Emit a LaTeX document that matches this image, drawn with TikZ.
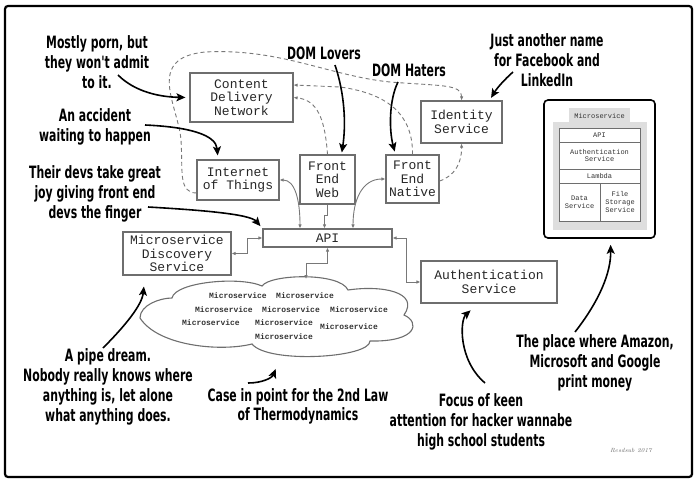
\documentclass[tikz,border=0pt]{standalone}
\usepackage{fontspec}
\setmonofont{Liberation Mono}
\newfontfamily\handfont[FakeStretch=0.64]{DejaVu Sans}
\usetikzlibrary{arrows.meta,calc}

\definecolor{boxgray}{RGB}{110,110,110}
\definecolor{linkgray}{RGB}{120,120,120}
\definecolor{panelgray}{RGB}{222,222,222}

\tikzset{
  box/.style={draw=boxgray, line width=1.1pt, align=center, inner sep=0pt,
    text=black!85, font=\ttfamily\fontsize{13}{13.5}\selectfont},
  link/.style={draw=linkgray, line width=0.9pt,
    {Latex[length=4pt,width=3.5pt]}-{Latex[length=4pt,width=3.5pt]}},
  dashlink/.style={draw=linkgray, line width=0.9pt, dash pattern=on 4pt off 3pt,
    -{Latex[length=4pt,width=3.5pt]}},
  note/.style={align=center, inner sep=0pt,
    font=\handfont\bfseries\fontsize{17}{20}\selectfont},
  notearrow/.style={line width=1.6pt, -{Stealth[length=9pt,width=8pt,inset=2pt]}},
  msvc/.style={font=\ttfamily\bfseries\fontsize{8}{8}\selectfont, text=black!80, inner sep=0pt},
  cell/.style={draw=boxgray, fill=white, line width=0.7pt, align=center, inner sep=0pt,
    text=black!80, font=\ttfamily\fontsize{7}{7.6}\selectfont}
}

\begin{document}
\begin{tikzpicture}[x=1pt,y=-1pt]
\useasboundingbox (0,0) rectangle (700,484);

%% outer frame
\draw[line width=2.2pt, rounded corners=3pt] (5,6) rectangle (692,477);

%% boxes
\node[box, minimum width=103pt, minimum height=49pt] (cdn) at (241.5,97.5) {Content\\Delivery\\Network};
\node[box, minimum width=82pt, minimum height=40pt] (iot) at (238,180) {Internet\\of Things};
\node[box, minimum width=55pt, minimum height=49pt] (few) at (327.5,179.5) {Front\\End\\Web};
\node[box, minimum width=53pt, minimum height=48pt] (fen) at (412.5,179) {Front\\End\\Native};
\node[box, minimum width=81pt, minimum height=42pt] (identity) at (461.5,122) {Identity\\Service};
\node[box, minimum width=129pt, minimum height=18pt] (api) at (327.5,238) {API};
\node[box, minimum width=108pt, minimum height=43pt] (disc) at (177,253.5) {Microservice\\Discovery\\Service};
\node[box, minimum width=136pt, minimum height=42pt] (auth) at (489,282) {Authentication\\Service};

%% the cloud of microservices
\draw[boxgray, line width=1.1pt] (140,318)
  .. controls (140,305) and (160,298) .. (172,298)
  .. controls (175,282) and (240,276) .. (262,286)
  .. controls (270,274) and (340,272) .. (348,290)
  .. controls (382,285) and (420,292) .. (404,315)
  .. controls (420,322) and (418,342) .. (370,341)
  .. controls (370,358) and (268,364) .. (252,344)
  .. controls (220,352) and (158,346) .. cycle;
\coordinate (cloudtop) at (306,279);
\coordinate (cloudbottom) at (281,356);
\node[msvc] (ms1) at (238,296) {Microservice};
\node[msvc] (ms2) at (305,296) {Microservice};
\node[msvc] (ms3) at (224,310) {Microservice};
\node[msvc] (ms4) at (291,310) {Microservice};
\node[msvc] (ms5) at (359,310) {Microservice};
\node[msvc] (ms6) at (211,323) {Microservice};
\node[msvc] (ms7) at (284,323) {Microservice};
\node[msvc] (ms8) at (349,327) {Microservice};
\node[msvc] (ms9) at (284,337) {Microservice};

%% solid links
\draw[link] (iot.east) .. controls (295,180) and (300,200) .. ([xshift=-27.5pt]api.north);
\draw[link, -{Latex[length=4pt,width=3.5pt]}] (few.south) -- ++(0,11) -| ([xshift=-3pt]api.north);
\draw[link] ([xshift=25.5pt]api.north) .. controls (353,200) and (362,179) .. (fen.west);
\draw[link] (disc.east) -- ++(16,0) |- (api.west);
\draw[link] (api.south) -- ++(0,16) -| (cloudtop);
\draw[link] (api.east) -- ++(14,0) |- (auth.west);

%% dashed links
\draw[dashlink] ([yshift=-13pt]iot.west) .. controls (178,193) and (183,170) .. (181,140)
  .. controls (178,105) and (145,58) .. (205,52)
  .. controls (280,48) and (330,76) .. (390,82)
  .. controls (440,86) and (462,84) .. (identity.north);
\draw[dashlink] (fen.north) .. controls (413,118) and (392,94) .. (340,87) -- ([yshift=12.5pt]cdn.east);
\draw[dashlink] (few.north) .. controls (325,120) and (318,100) .. (cdn.east);
\draw[dashlink] ([yshift=-2pt]fen.east) .. controls (455,176) and (462,162) .. (identity.south);

%% the microservice tablet
\node[draw, line width=1.6pt, rounded corners=4pt, minimum width=111pt, minimum height=138pt] (tablet) at (599.5,169) {};
\fill[panelgray] (553,122) rectangle (647,230);
\fill[panelgray] (569,108) rectangle (630,122);
\node[cell, draw=none, fill=none] (tabtitle) at (599.5,115.5) {Microservice};
\node[cell, minimum width=81pt, minimum height=14pt] (tapi) at (599.5,135) {API};
\node[cell, minimum width=81pt, minimum height=27pt] (tauth) at (599.5,155.5) {Authentication\\Service};
\node[cell, minimum width=81pt, minimum height=14pt] (tlambda) at (599.5,176) {Lambda};
\node[cell, minimum width=41pt, minimum height=38pt] (tdata) at (579.5,202) {Data\\Service};
\node[cell, minimum width=40pt, minimum height=38pt] (tfile) at (620,202) {File\\Storage\\Service};

%% notes
\node[note] (porn) at (97,62) {Mostly porn, but\\they won't admit\\to it.};
\node[note] (accident) at (95,127) {An accident\\waiting to happen};
\node[note] (finger) at (95,194) {Their devs take great\\joy giving front end\\devs the finger};
\node[note] (lovers) at (324,53) {DOM Lovers};
\node[note] (haters) at (409,70) {DOM Haters};
\node[note] (facebook) at (547,60) {Just another name\\for Facebook and\\LinkedIn};
\node[note] (amazon) at (595,363) {The place where Amazon,\\Microsoft and Google\\print money};
\node[note] (focus) at (481,422) {Focus of keen\\attention for hacker wannabe\\high school students};
\node[note, font=\handfont\bfseries\fontsize{17}{19}\selectfont] (thermo) at (298,406) {Case in point for the 2nd Law\\of Thermodynamics};
\node[note] (pipe) at (108,387) {A pipe dream.\\Nobody really knows where\\anything is, let alone\\what anything does.};
\node[font=\itshape\fontsize{6}{6}\selectfont, text=black!60] (sign) at (631,450) {Resdsub 2017};

%% note arrows
\coordinate (porn-tail) at (118,75);
\coordinate (accident-tail) at (145,125);
\coordinate (finger-tail) at (148,207);
\coordinate (lovers-tail) at (335,65);
\coordinate (haters-tail) at (398,82);
\coordinate (facebook-tail) at (513,72);
\coordinate (amazon-tail) at (575,332);
\coordinate (focus-tail) at (485,383);
\coordinate (thermo-tail) at (248,383);
\coordinate (pipe-tail) at (103,348);
\draw[notearrow, shorten >=4pt] (porn-tail) .. controls (135,92) and (160,97) .. (cdn.west);
\draw[notearrow, shorten >=4pt] (accident-tail) .. controls (190,127) and (216,135) .. ([xshift=-20pt]iot.north);
\draw[notearrow, shorten >=3pt] (finger-tail) .. controls (200,210) and (250,214) .. (api.north west);
\draw[notearrow, shorten >=2pt] (lovers-tail) .. controls (345,95) and (346,125) .. ([xshift=14pt]few.north);
\draw[notearrow, shorten >=3pt] (haters-tail) .. controls (389,100) and (389,130) .. ([xshift=-17pt]fen.north);
\draw[notearrow, shorten >=3pt] (facebook-tail) .. controls (505,79) and (497,88) .. ([xshift=28pt]identity.north);
\draw[notearrow, shorten >=6pt] (amazon-tail) .. controls (600,300) and (611,272) .. ([xshift=11pt]tablet.south);
\draw[notearrow, shorten >=10pt] (focus-tail) .. controls (458,360) and (460,320) .. ([xshift=-11pt]auth.south);
\draw[notearrow, shorten >=14pt] (thermo-tail) .. controls (262,383) and (272,378) .. (cloudbottom);
\draw[notearrow, shorten >=11pt] (pipe-tail) .. controls (125,326) and (142,305) .. ([xshift=-32pt]disc.south);
\end{tikzpicture}
\end{document}
